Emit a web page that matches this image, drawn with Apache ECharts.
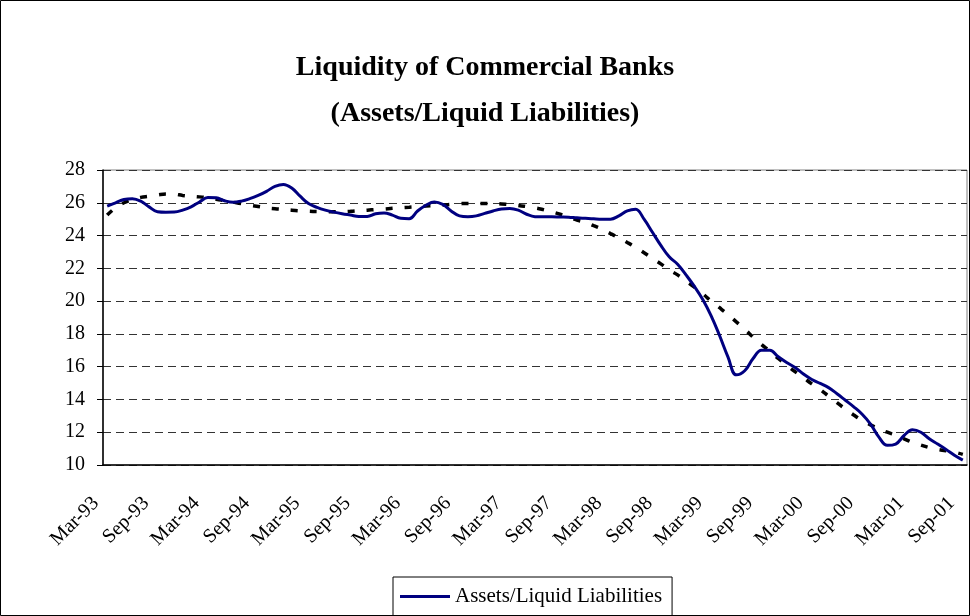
<!DOCTYPE html>
<html>
<head>
<meta charset="utf-8">
<script src="https://cdn.jsdelivr.net/npm/echarts@6/dist/echarts.min.js"></script>
<style>
html,body{margin:0;padding:0;background:#fff;}
#chart{width:970px;height:616px;}
</style>
</head>
<body>
<div id="chart"></div>
<script>
// Monthly categories Mar-93 .. Sep-01 (103 months)
const monthNames = ['Jan','Feb','Mar','Apr','May','Jun','Jul','Aug','Sep','Oct','Nov','Dec'];
const startMonth = 2, startYear = 93, monthCount = 103;
const categories = [];
for (let k = 0; k < monthCount; k++) {
  const m = (startMonth + k) % 12;
  const y = (startYear + Math.floor((startMonth + k) / 12)) % 100;
  categories.push(monthNames[m] + '-' + String(y).padStart(2, '0'));
}

const seriesName = 'Assets/Liquid Liabilities';

const liquidity = [
  25.8, 26.0, 26.2, 26.25, 26.1, 25.75, 25.45, 25.42, 25.43, 25.55,
  25.75, 26.05, 26.32, 26.3, 26.12, 26.03, 26.1, 26.25, 26.45, 26.7,
  27.0, 27.12, 26.9, 26.4, 25.95, 25.72, 25.55, 25.43, 25.33, 25.25,
  25.17, 25.17, 25.33, 25.38, 25.25, 25.05, 25.03, 25.5, 25.85, 26.05,
  25.9, 25.5, 25.2, 25.15, 25.2, 25.35, 25.5, 25.62, 25.65, 25.55,
  25.3, 25.15, 25.14, 25.14, 25.13, 25.12, 25.08, 25.05, 25.02, 25.0,
  25.0, 25.2, 25.5, 25.6, 25.0, 24.2, 23.4, 22.7, 22.25, 21.6,
  20.9, 20.1, 19.1, 17.9, 16.6, 15.5, 15.75, 16.5, 17.0, 17.0,
  16.6, 16.25, 15.95, 15.55, 15.22, 14.98, 14.72, 14.35, 13.95, 13.55,
  13.1, 12.5, 11.7, 11.2, 11.28, 11.8, 12.15, 12.0, 11.6, 11.28,
  10.95, 10.6, 10.3
];

const trend = [
  25.25, 25.7, 26.0, 26.2, 26.33, 26.4, 26.48, 26.53, 26.52, 26.45,
  26.4, 26.36, 26.3, 26.22, 26.13, 26.04, 25.95, 25.85, 25.77, 25.69,
  25.64, 25.6, 25.55, 25.51, 25.48, 25.46, 25.45, 25.45, 25.46, 25.48,
  25.52, 25.55, 25.59, 25.62, 25.66, 25.7, 25.73, 25.76, 25.8, 25.83,
  25.86, 25.9, 25.94, 25.96, 25.96, 25.96, 25.96, 25.93, 25.89, 25.84,
  25.77, 25.69, 25.58, 25.45, 25.3, 25.13, 24.95, 24.8, 24.6, 24.38,
  24.12, 23.86, 23.58, 23.28, 22.95, 22.6, 22.27, 21.9, 21.6, 21.23,
  20.85, 20.45, 20.0, 19.6, 19.18, 18.73, 18.28, 17.8, 17.35, 16.95,
  16.5, 16.1, 15.7, 15.33, 14.95, 14.6, 14.2, 13.8, 13.42, 13.05,
  12.72, 12.45, 12.2, 12.0, 11.82, 11.6, 11.38, 11.22, 11.06, 10.95,
  10.87, 10.78, 10.65
];

const yMin = 10, yMax = 28, yStep = 2;
const titleLines = ['Liquidity of Commercial Banks', '(Assets/Liquid Liabilities)'];

const FONT = '"Liberation Serif", "Times New Roman", serif';

const chart = echarts.init(document.getElementById('chart'), null, {renderer: 'canvas'});
chart.setOption({
  animation: false,
  backgroundColor: '#fff',
  textStyle: {fontFamily: FONT},
  title: {
    text: titleLines.join('\n'),
    left: 'center',
    top: 40,
    textStyle: {fontFamily: FONT, fontSize: 28, fontWeight: 'bold', color: '#000', lineHeight: 46}
  },
  graphic: [{
    type: 'rect', silent: true, z: -1,
    shape: {x: 0.5, y: 0.5, width: 969, height: 615},
    style: {fill: 'none', stroke: '#000', lineWidth: 1}
  }],
  legend: {
    show: true,
    data: [seriesName],
    left: 393,
    top: 577,
    borderColor: '#000',
    borderWidth: 1,
    padding: [9, 10, 9, 7],
    itemWidth: 50,
    itemHeight: 3,
    itemGap: 8,
    icon: 'rect',
    textStyle: {fontFamily: FONT, fontSize: 21, color: '#000'}
  },
  grid: {
    left: 103, right: 3, top: 170, bottom: 151,
    show: true, borderColor: '#808080', borderWidth: 1, backgroundColor: '#fff'
  },
  xAxis: {
    type: 'category',
    data: categories,
    boundaryGap: true,
    axisLine: {lineStyle: {color: '#000', width: 1.5}},
    axisTick: {show: false},
    axisLabel: {
      interval: 5,
      rotate: 45,
      margin: 24,
      padding: [0, 16, 0, 0],
      fontFamily: FONT, fontSize: 20, color: '#000'
    },
    splitLine: {show: false}
  },
  yAxis: {
    type: 'value',
    min: yMin, max: yMax, interval: yStep,
    axisLine: {show: true, lineStyle: {color: '#000', width: 1.5}},
    axisTick: {show: true, length: 6, lineStyle: {color: '#000'}},
    axisLabel: {margin: 18, fontFamily: FONT, fontSize: 20, color: '#000'},
    splitLine: {show: true, lineStyle: {color: '#333', width: 1, type: [8, 5]}}
  },
  series: [
    {
      name: 'trend',
      type: 'line',
      data: trend,
      smooth: true,
      showSymbol: false,
      lineStyle: {color: '#000', width: 3.5, type: [7, 12]},
      z: 3
    },
    {
      name: seriesName,
      type: 'line',
      data: liquidity,
      smooth: 0.4,
      showSymbol: false,
      symbol: 'none',
      itemStyle: {color: '#000080'},
      lineStyle: {color: '#000080', width: 3},
      z: 4
    }
  ]
});
</script>
</body>
</html>
